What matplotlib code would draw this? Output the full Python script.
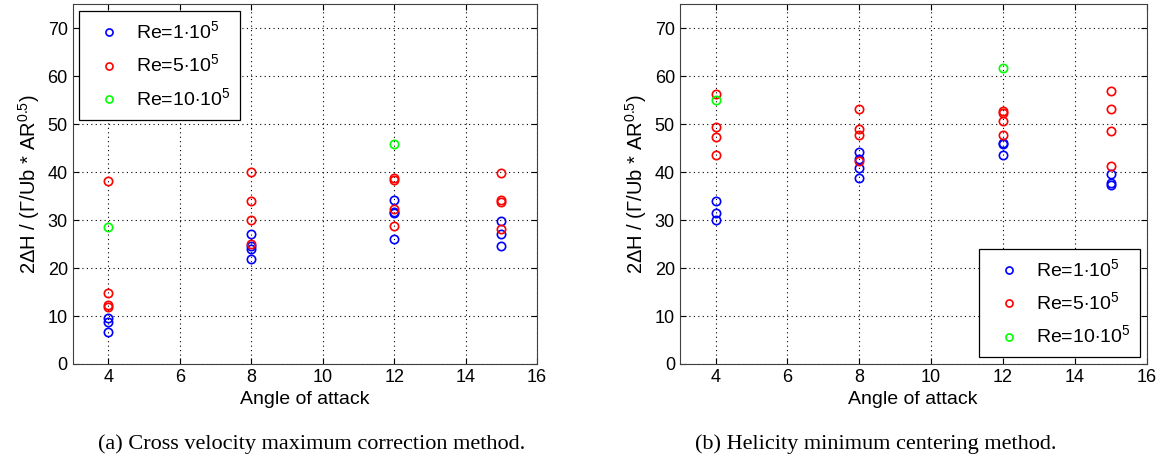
import numpy as np
import matplotlib
matplotlib.use("Agg")
import matplotlib.pyplot as plt

plt.rcParams['font.family'] = ['Liberation Sans', 'DejaVu Sans']
plt.rcParams['mathtext.fontset'] = 'custom'
plt.rcParams['mathtext.rm'] = 'Liberation Sans'

# (a) Cross velocity maximum correction method
a_re1_x = [4, 4, 4, 8, 8, 8, 8, 12, 12, 12, 12, 15, 15, 15]
a_re1_y = [9.5, 8.8, 6.7, 27.0, 24.6, 23.9, 21.9, 34.2, 31.7, 31.4, 26.0, 29.9, 27.0, 24.6]
a_re5_x = [4, 4, 4, 4, 8, 8, 8, 8, 12, 12, 12, 12, 15, 15, 15, 15]
a_re5_y = [38.2, 14.7, 12.3, 11.8, 40.1, 34.0, 30.1, 25.1, 38.8, 38.3, 32.2, 28.8, 39.9, 34.2, 33.8, 28.2]
a_re10_x = [4, 12]
a_re10_y = [28.5, 45.8]

# (b) Helicity minimum centering method
b_re1_x = [4, 4, 4, 8, 8, 8, 8, 12, 12, 12, 15, 15, 15]
b_re1_y = [34.0, 31.4, 30.0, 44.2, 42.8, 40.8, 38.8, 46.1, 45.8, 43.5, 39.7, 37.8, 37.4]
b_re5_x = [4, 4, 4, 4, 8, 8, 8, 8, 12, 12, 12, 12, 15, 15, 15, 15]
b_re5_y = [56.2, 49.3, 47.4, 43.5, 53.1, 48.9, 47.8, 42.3, 52.7, 52.4, 50.6, 47.8, 56.9, 53.1, 48.6, 41.3]
b_re10_x = [4, 12]
b_re10_y = [55.1, 61.7]

labels = ['Re=1$\\cdot$10$^5$', 'Re=5$\\cdot$10$^5$', 'Re=10$\\cdot$10$^5$']
colors = ['#0000ff', '#ff0000', '#00ff00']

fig = plt.figure(figsize=(11.62, 4.59), dpi=100)
ax1 = fig.add_axes([0.0625, 0.207, 0.3997, 0.784])
ax2 = fig.add_axes([0.585, 0.207, 0.4017, 0.784])

panels = [
    (ax1, [(a_re1_x, a_re1_y), (a_re5_x, a_re5_y), (a_re10_x, a_re10_y)], 'upper left'),
    (ax2, [(b_re1_x, b_re1_y), (b_re5_x, b_re5_y), (b_re10_x, b_re10_y)], 'lower right'),
]

for ax, series, loc in panels:
    for (x, y), c, lab in zip(series, colors, labels):
        ax.plot(x, y, 'o', mfc='none', mec=c, ms=6, mew=1.2, label=lab, linestyle='none')
    ax.set_xlim(3, 16)
    ax.set_ylim(0, 75)
    ax.set_xticks(np.arange(4, 17, 2))
    ax.set_yticks(np.arange(0, 71, 10))
    ax.grid(True, linestyle=(0, (1, 3)), color='black', linewidth=0.8)
    ax.tick_params(direction='in', top=True, right=True, labelsize=13, length=4)
    for s in ax.spines.values():
        s.set_color('#404040')
    ax.set_xlabel('Angle of attack', fontsize=14)
    ax.set_ylabel('2$\\Delta$H / ($\\Gamma$/Ub * AR$^{0.5}$)', fontsize=14.5)
    leg = ax.legend(loc=loc, fontsize=14, fancybox=False, framealpha=1,
                    edgecolor='black', handletextpad=0.4, borderpad=0.5,
                    labelspacing=0.55, handlelength=2.0, markerscale=0.85,
                    borderaxespad=0.35)
    leg.get_frame().set_linewidth(0.9)

fig.text(0.2685, 0.022, '(a) Cross velocity maximum correction method.',
         ha='center', va='baseline', fontsize=16, family='Liberation Serif')
fig.text(0.754, 0.022, '(b) Helicity minimum centering method.',
         ha='center', va='baseline', fontsize=16, family='Liberation Serif')

fig.savefig('out.png', dpi=100)
